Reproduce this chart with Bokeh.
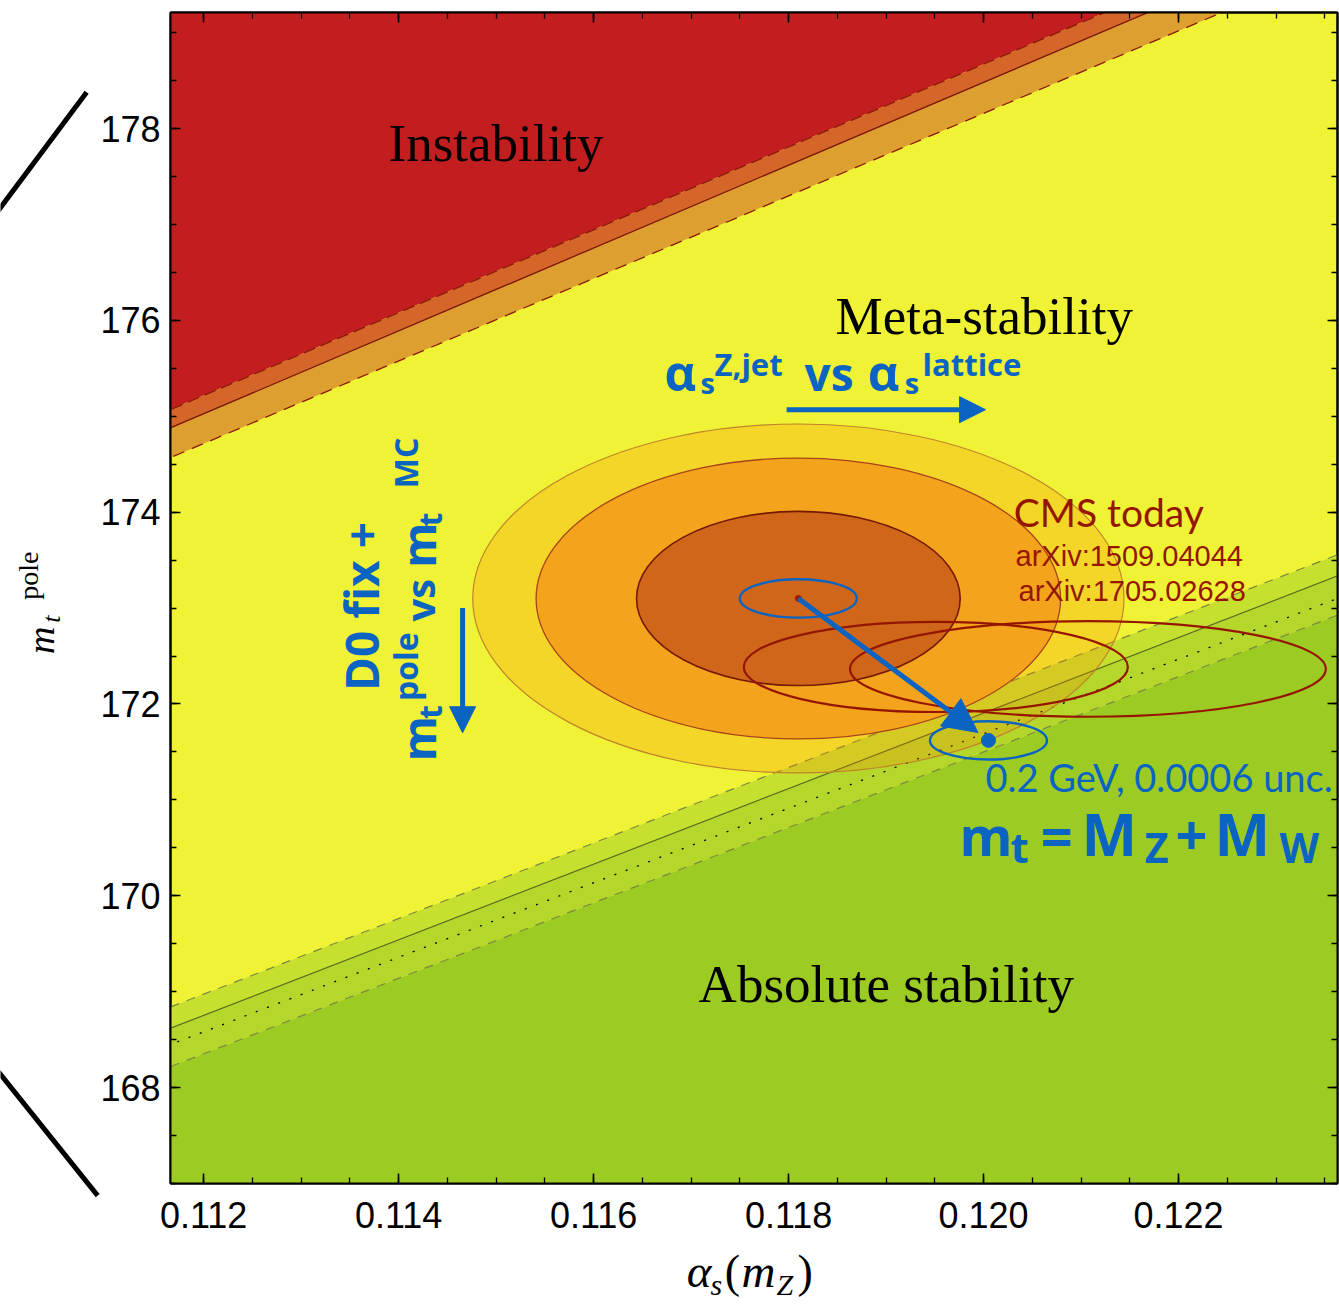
import math
from bokeh.plotting import figure
from bokeh.models import (Range1d, LinearAxis, SingleIntervalTicker, PrintfTickFormatter,
                          Label, Arrow, NormalHead, Column)
from bokeh.embed import file_html
from bokeh.resources import INLINE

# ---------------------------------------------------------------- data
# alpha_s values at which the straight phase boundaries are evaluated
alpha_ends = [0.1115, 0.1240]

# instability boundary (GeV): edge of the red region, central line, lower band line
instab_edge = [175.00, 180.40]
instab_central = [174.81, 180.21]
instab_lower = [174.50, 179.88]

# absolute-stability boundary (GeV): upper band line, central, dotted, lower band line
stab_upper = [168.777, 173.702]
stab_central = [168.556, 173.481]
stab_dotted = [168.387, 173.244]
stab_lower = [168.156, 173.072]

# global fit: centre and semi-axes of the three confidence ellipses
fit_center = [0.1181, 173.1]
fit_semi_alpha = [0.00334, 0.00269, 0.00166]
fit_semi_mt = [1.820, 1.465, 0.908]

# CMS determinations (centre, semi-axes)
cms_alpha = [0.11951, 0.12107]
cms_mt = [172.386, 172.365]
cms_semi_alpha = [0.00197, 0.00244]
cms_semi_mt = [0.470, 0.498]

# projected measurement: present centre and the shifted point mt = MZ + MW
proj_alpha = [0.1181, 0.12005]
proj_mt = [173.1, 171.62]
proj_unc_alpha = 0.0006   # "0.0006 unc."
proj_unc_mt = 0.2         # "0.2 GeV"

x_tick_step = 0.002
y_tick_step = 2

# ---------------------------------------------------------------- style
RED = "#c21e1f"
DORANGE = "#d4662a"
ORANGE = "#dd9f2f"
YELLOW = "#eff235"
LGREEN1 = "#c7e030"
LGREEN2 = "#b5d72b"
GREEN = "#9ccb24"
BLUE = "#0b64c1"
CMSRED = "#951600"

W, H = 1339, 1313
FW, FH = 1167, 1171
LEFT, TOP = 170, 12
x_lo, x_hi = 0.11166, 0.12363
y_lo, y_hi = 167.0, 179.21
px_x = FW / (x_hi - x_lo)     # pixels per unit of alpha_s
px_y = FH / (y_hi - y_lo)     # pixels per GeV

p = figure(frame_width=FW, frame_height=FH,
           x_range=Range1d(x_lo, x_hi), y_range=Range1d(y_lo, y_hi),
           x_axis_type=None, y_axis_type=None,
           min_border_left=LEFT, min_border_right=W - LEFT - FW, min_border_top=TOP,
           min_border_bottom=H - TOP - FH,
           background_fill_color=YELLOW, border_fill_color="white",
           output_backend="svg", toolbar_location=None)
p.xgrid.visible = False
p.ygrid.visible = False
p.outline_line_color = "black"
p.outline_line_width = 2


def make_axis(step, fmt, labels, standoff):
    ax = LinearAxis(ticker=SingleIntervalTicker(interval=step, num_minor_ticks=4),
                    formatter=PrintfTickFormatter(format=fmt))
    ax.major_tick_in, ax.major_tick_out = 10, 0
    ax.minor_tick_in, ax.minor_tick_out = 6, 0
    ax.axis_line_color = "black"
    ax.axis_line_width = 2
    ax.major_tick_line_color = "black"
    ax.major_tick_line_width = 1.6
    ax.minor_tick_line_color = "black"
    ax.minor_tick_line_width = 1.3
    ax.major_label_text_font = "Liberation Sans"
    if labels:
        ax.major_label_text_color = "black"
        ax.major_label_text_font_size = "36px"
        ax.major_label_standoff = standoff
    else:
        ax.major_label_text_color = None
        ax.major_label_text_font_size = "0px"
        ax.major_label_standoff = 0
    return ax


p.add_layout(make_axis(x_tick_step, "%.3f", True, 18), "below")
p.add_layout(make_axis(y_tick_step, "%d", True, 10), "left")
p.add_layout(make_axis(x_tick_step, "%.3f", False, 0), "above")
p.add_layout(make_axis(y_tick_step, "%d", False, 0), "right")

# ---------------------------------------------------------------- regions
aL, aR = alpha_ends
far_top, far_bot = y_hi + 10, y_lo - 10


def band(lower, upper, color):
    p.patch([aL, aR, aR, aL], [lower[0], lower[1], upper[1], upper[0]],
            fill_color=color, line_color=None)


band(instab_edge, [far_top, far_top], RED)
band(instab_central, instab_edge, DORANGE)
band(instab_lower, instab_central, ORANGE)
band([far_bot, far_bot], stab_lower, GREEN)
band(stab_lower, stab_central, LGREEN2)
band(stab_central, stab_upper, LGREEN1)

p.line(alpha_ends, instab_edge, line_color="#8a1a08", line_width=1.3, line_dash="12 6")
p.line(alpha_ends, instab_central, line_color="#7a1505", line_width=1.3)
p.line(alpha_ends, instab_lower, line_color="#8a1a08", line_width=1.3, line_dash="12 8")
p.line(alpha_ends, stab_upper, line_color="#7a8a40", line_width=1.2, line_dash="9 8")
p.line(alpha_ends, stab_central, line_color="#566a22", line_width=1.2)
p.line(alpha_ends, stab_dotted, line_color="black", line_width=1.3, line_dash="2 10")
p.line(alpha_ends, stab_lower, line_color="#7a8a40", line_width=1.2, line_dash="9 8")

# ---------------------------------------------------------------- ellipses
fit_fill = ["#ff8200", "#f4a31c", "#d0661a"]
fit_alpha = [0.25, 1.0, 1.0]
fit_edge = ["#c0842a", "#a8441a", "#741a05"]
fit_edge_w = [1.2, 1.3, 1.6]
for sa, sm, fc, fa, ec, ew in zip(fit_semi_alpha, fit_semi_mt, fit_fill, fit_alpha, fit_edge, fit_edge_w):
    p.ellipse(x=[fit_center[0]], y=[fit_center[1]], width=[2 * sa], height=[2 * sm],
              fill_color=fc, fill_alpha=fa, line_color=ec, line_width=ew)

p.ellipse(x=cms_alpha, y=cms_mt,
          width=[2 * s for s in cms_semi_alpha], height=[2 * s for s in cms_semi_mt],
          fill_color=None, line_color=CMSRED, line_width=2.2)

p.ellipse(x=proj_alpha, y=proj_mt,
          width=[2 * proj_unc_alpha] * 2, height=[2 * proj_unc_mt] * 2,
          fill_color=None, line_color=BLUE, line_width=2.4)
p.scatter(x=[proj_alpha[0]], y=[proj_mt[0]], size=6, color="#a01a05")
p.scatter(x=[proj_alpha[1]], y=[proj_mt[1]], size=14, color=BLUE)

# shift of the central value
frac = 0.945
tip_a = proj_alpha[0] + frac * (proj_alpha[1] - proj_alpha[0])
tip_m = proj_mt[0] + frac * (proj_mt[1] - proj_mt[0])
p.add_layout(Arrow(x_start=proj_alpha[0], y_start=proj_mt[0], x_end=tip_a, y_end=tip_m,
                   line_color=BLUE, line_width=5,
                   end=NormalHead(size=34, fill_color=BLUE, line_color=BLUE)))

# direction arrows
p.add_layout(Arrow(x_start=0.11798, y_start=175.069, x_end=0.12002, y_end=175.069,
                   line_color=BLUE, line_width=5,
                   end=NormalHead(size=26, fill_color=BLUE, line_color=BLUE)))
p.add_layout(Arrow(x_start=0.114656, y_start=173.0, x_end=0.114656, y_end=171.70,
                   line_color=BLUE, line_width=5,
                   end=NormalHead(size=26, fill_color=BLUE, line_color=BLUE)))

# ---------------------------------------------------------------- text layer
# a transparent figure laid over the whole canvas, sharing the same data scale,
# so that titles and notes may also sit in the margins
ov = figure(width=W, height=H,
            x_range=Range1d(x_lo - LEFT / px_x, x_hi + (W - LEFT - FW) / px_x),
            y_range=Range1d(y_lo - (H - TOP - FH) / px_y, y_hi + TOP / px_y),
            x_axis_type=None, y_axis_type=None, min_border=0,
            outline_line_color=None, background_fill_color=None, border_fill_color=None,
            output_backend="svg", toolbar_location=None)
ov.grid.visible = False

# distance from the middle of the em box to the baseline, in em
LIFT = {"Lato": 0.43, "Open Sans": 0.39, "Liberation Serif": 0.34, "Liberation Sans": 0.35}


def put(txt, x, y, size, color="black", font="Lato", style="normal", angle=0.0):
    d = LIFT[font] * size
    if angle == 0.0:
        y = y + d / px_y
    else:
        x = x - d / px_x
    ov.add_layout(Label(x=x, y=y, text=txt, text_font_size=f"{size}px", text_color=color,
                        text_font=font, text_font_style=style, angle=angle,
                        text_align="left", text_baseline="middle"))


SERIF = "Liberation Serif"
put("Instability", 0.113897, 177.66, 53, font=SERIF)
put("Meta-stability", 0.118482, 175.86, 53, font=SERIF)
put("Absolute stability", 0.117077, 168.89, 53, font=SERIF)

put("CMS today", 0.120308, 173.826, 39, color=CMSRED)
put("arXiv:1509.04044", 0.120328, 173.44, 29, color=CMSRED, font="Liberation Sans")
put("arXiv:1705.02628", 0.120358, 173.076, 29, color=CMSRED, font="Liberation Sans")

put("0.2 GeV, 0.0006 unc.", 0.12002, 171.07, 38, color=BLUE)

BOLD = dict(color=BLUE, font="Open Sans", style="bold")
# mt = MZ + MW
put("m", 0.119754, 170.411, 54, **BOLD)
put("t", 0.120277, 170.338, 42, **BOLD)
put("=", 0.120585, 170.411, 56, **BOLD)
put("M", 0.121005, 170.411, 59, **BOLD)
put("Z", 0.121652, 170.338, 41, **BOLD)
put("+", 0.121969, 170.411, 56, **BOLD)
put("M", 0.122369, 170.411, 59, **BOLD)
put("W", 0.123036, 170.338, 41, **BOLD)

# alpha_s^{Z,jet} vs alpha_s^{lattice}
put("α", 0.116728, 175.267, 49, **BOLD)
put("s", 0.117097, 175.236, 29, **BOLD)
put("Z,jet", 0.117241, 175.424, 31, **BOLD)
put("vs", 0.118164, 175.267, 46, **BOLD)
put("α", 0.118811, 175.267, 49, **BOLD)
put("s", 0.119190, 175.236, 29, **BOLD)
put("lattice", 0.119374, 175.424, 31, **BOLD)

# D0 fix + mt^pole vs mt^MC, written upwards
up = math.pi / 2
put("D0 fix +", 0.113795, 172.135, 46, angle=up, **BOLD)
put("m", 0.114379, 171.404, 46, angle=up, **BOLD)
put("t", 0.114441, 171.843, 32, angle=up, **BOLD)
put("pole", 0.114195, 172.031, 32, angle=up, **BOLD)
put("vs", 0.114379, 172.860, 40, angle=up, **BOLD)
put("m", 0.114379, 173.420, 46, angle=up, **BOLD)
put("t", 0.114441, 173.850, 32, angle=up, **BOLD)
put("MC", 0.114195, 174.250, 32, angle=up, **BOLD)

# axis titles
put("α", 0.116954, 165.922, 47, font=SERIF, style="italic")
put("s", 0.117200, 165.838, 30, font=SERIF, style="italic")
put("(", 0.117344, 165.922, 46, font=SERIF)
put("m", 0.117518, 165.922, 47, font=SERIF, style="italic")
put("Z", 0.117877, 165.838, 30, font=SERIF, style="italic")
put(")", 0.118092, 165.922, 46, font=SERIF)

put("m", 0.110462, 172.522, 38, font=SERIF, style="italic", angle=up)
put("t", 0.110533, 172.846, 26, font=SERIF, style="italic", angle=up)
put("pole", 0.110297, 173.087, 28, font=SERIF, angle=up)

# bracket strokes at the left margin
ov.add_layout(Arrow(x_start=0.109815, y_start=177.038, x_end=0.110800, y_end=178.379,
                    end=None, line_color="black", line_width=5))
ov.add_layout(Arrow(x_start=0.109815, y_start=168.266, x_end=0.110913, y_end=166.873,
                    end=None, line_color="black", line_width=5))

# each figure sits in its own box so that their frames are laid out independently
base = Column(children=[p])
cover = Column(children=[ov], margin=(-H, 0, 0, 0))
page = Column(children=[base, cover])
open("out.html", "w").write(file_html(page, INLINE))
